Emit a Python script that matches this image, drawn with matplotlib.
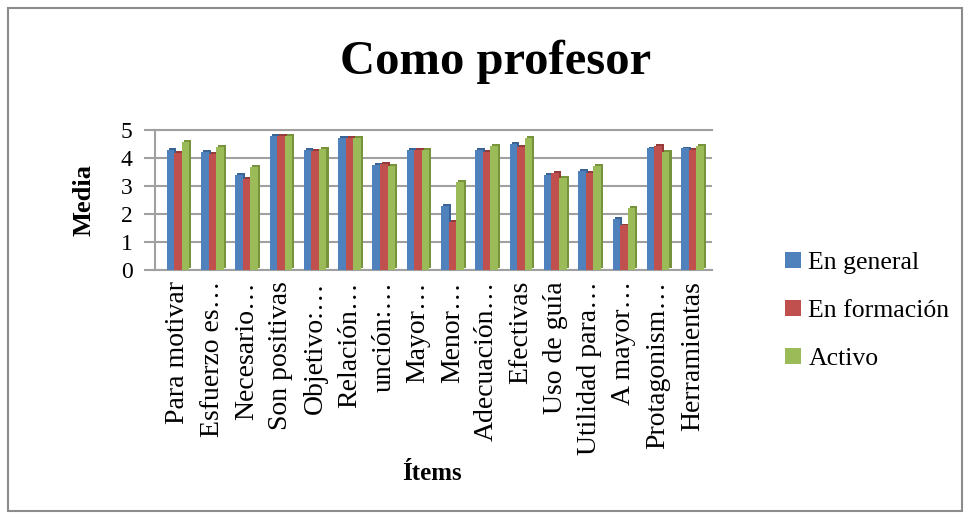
import matplotlib
matplotlib.use("Agg")
import matplotlib.pyplot as plt
import numpy as np
from matplotlib.patches import Rectangle

plt.rcParams['font.family'] = ['Liberation Serif', 'DejaVu Serif']

categories = ['Para motivar', 'Esfuerzo es…', 'Necesario…', 'Son positivas',
              'Objetivo:…', 'Relación…', 'unción:…', 'Mayor…', 'Menor…',
              'Adecuación…', 'Efectivas', 'Uso de guía', 'Utilidad para…',
              'A mayor…', 'Protagonism…', 'Herramientas']
series_names = ['En general', 'En formación', 'Activo']
en_general   = [4.30, 4.23, 3.40, 4.78, 4.28, 4.72, 3.74, 4.28, 2.27, 4.27, 4.49, 3.38, 3.54, 1.83, 4.34, 4.34]
en_formacion = [4.17, 4.16, 3.24, 4.78, 4.25, 4.72, 3.77, 4.28, 1.71, 4.20, 4.40, 3.45, 3.47, 1.59, 4.42, 4.28]
activo       = [4.57, 4.40, 3.67, 4.78, 4.33, 4.72, 3.72, 4.28, 3.16, 4.43, 4.71, 3.28, 3.70, 2.21, 4.20, 4.43]
yticks = [0, 1, 2, 3, 4, 5]

front_colors = ['#4F81BD', '#C0504D', '#9BBB59']
side_colors = ['#3A6396', '#953B39', '#77933C']

W, H = 970, 519
fig = plt.figure(figsize=(W / 100, H / 100), dpi=100)

# outer border
fig.patches.append(Rectangle((8 / W, 8 / H), (W - 16) / W, (H - 16) / H,
                             transform=fig.transFigure, fill=False,
                             edgecolor='#8c8c8c', linewidth=1.5))

ax = fig.add_axes([155 / W, 1 - 270 / H, 557 / W, 140 / H])
ax.set_xlim(-0.67, 15.57)
ax.set_ylim(0, 5)

x = np.arange(len(categories))
bw = 0.22
dx, dy = 0.06, 0.07
data = [en_general, en_formacion, activo]
for k, vals in enumerate(data):
    ax.bar(x + (k - 1) * bw + dx, vals, width=bw, bottom=dy,
           color=side_colors[k], zorder=2, linewidth=0)
for k, vals in enumerate(data):
    ax.bar(x + (k - 1) * bw, vals, width=bw, color=front_colors[k],
           zorder=3, linewidth=0, label=series_names[k])

ax.set_yticks(yticks)
ax.yaxis.grid(True, color='#a0a0a0', linewidth=1.5, zorder=0)
ax.set_axisbelow(True)
ax.spines['right'].set_visible(False)
for s in ['left', 'bottom', 'top']:
    ax.spines[s].set_color('#a0a0a0')
    ax.spines[s].set_linewidth(1.5)
ax.tick_params(axis='y', length=8, width=1.5, color='#a0a0a0',
               labelsize=17, pad=8)
ax.set_yticklabels([str(t) for t in yticks])
ax.set_xticks(x)
ax.set_xticklabels(categories, rotation=90, fontsize=20, va='top', ha='center')
ax.tick_params(axis='x', length=0, pad=8)

fig.text(496 / W, 1 - 62 / H, 'Como profesor', fontsize=35, fontweight='bold',
         ha='center', va='center')
fig.text(84 / W, 1 - 200 / H, 'Media', fontsize=19, fontweight='bold',
         rotation=90, ha='center', va='center')
fig.text(432 / W, 1 - 474 / H, 'Ítems', fontsize=18, fontweight='bold',
         ha='center', va='center')

leg = ax.legend(loc='center left', bbox_to_anchor=(775 / W, 1 - 311 / H),
                bbox_transform=fig.transFigure, frameon=False, fontsize=18.5,
                handlelength=0.6, handleheight=0.6, handletextpad=0.3,
                labelspacing=1.0, borderaxespad=0)

fig.savefig('out.png', dpi=100)
